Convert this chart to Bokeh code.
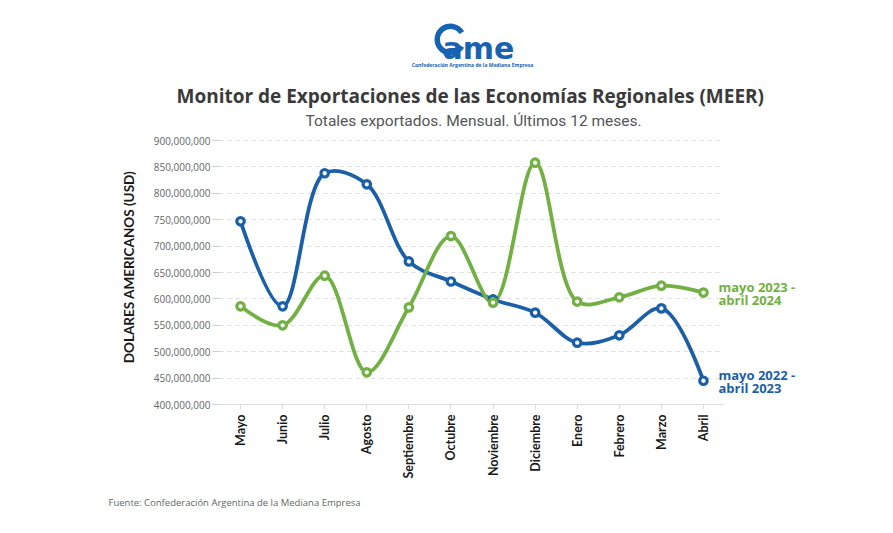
import math
from bokeh.plotting import figure
from bokeh.layouts import column
from bokeh.models import Label, FixedTicker, NumeralTickFormatter, Range1d, Title
from bokeh.embed import file_html
from bokeh.resources import INLINE

months = ["Mayo", "Junio", "Julio", "Agosto", "Septiembre", "Octubre", "Noviembre",
          "Diciembre", "Enero", "Febrero", "Marzo", "Abril"]
serie_2022_2023 = [747e6, 586e6, 838e6, 817e6, 671e6, 633e6, 599e6, 574e6, 517e6, 531e6, 582e6, 445e6]
serie_2023_2024 = [586e6, 550e6, 644e6, 461e6, 584e6, 719e6, 593e6, 858e6, 595e6, 603e6, 625e6, 612e6]
name_2022 = ["mayo 2022 -", "abril 2023"]
name_2023 = ["mayo 2023 -", "abril 2024"]
y_ticks = [400e6, 450e6, 500e6, 550e6, 600e6, 650e6, 700e6, 750e6, 800e6, 850e6, 900e6]

title_text = "Monitor de Exportaciones de las Economías Regionales (MEER)"
subtitle_text = "Totales exportados. Mensual. Últimos 12 meses."
source_text = "Fuente: Confederación Argentina de la Mediana Empresa"
logo_text = "ame"
logo_sub = "Confederación Argentina de la Mediana Empresa"

BLUE = "#1b5fa7"
GREEN = "#72b043"
LOGO = "#1762b3"
W = 885
BL, BR = 219, 5

# ---------------- header (logo) ----------------
HH = 79
head = figure(width=W, height=HH, output_backend="svg", toolbar_location=None,
              x_range=Range1d(BL, W - BR), y_range=Range1d(HH, 0),
              min_border_left=BL, min_border_right=BR,
              min_border_top=0, min_border_bottom=0)
head.axis.visible = False
head.grid.grid_line_color = None
head.outline_line_color = None
head.annular_wedge(x=[450], y=[39], inner_radius=10.5, outer_radius=16,
                   start_angle=0.55, end_angle=2 * math.pi - 0.55,
                   inner_radius_units="screen", outer_radius_units="screen",
                   fill_color=LOGO, line_color=None)
head.add_layout(Label(x=442, y=48, text=logo_text, text_font="DejaVu Sans",
                      text_font_style="bold", text_font_size="30px", text_color=LOGO,
                      text_align="left", text_baseline="alphabetic"))
head.add_layout(Label(x=472, y=64, text=logo_sub, text_font="Open Sans",
                      text_font_style="bold", text_font_size="5px", text_color=LOGO,
                      text_align="center", text_baseline="middle"))

# ---------------- main chart ----------------
FRAME_TOP = 130
FRAME_BOTTOM = 405
Y0 = 400e6
px_per_usd = 264 / 500e6
px_per_cat = 505 / 12
fw = W - BL - BR
fh = FRAME_BOTTOM - FRAME_TOP
X0 = -0.5
X1 = X0 + fw / px_per_cat
Y1 = Y0 + fh / px_per_usd
sx = px_per_cat
sy = px_per_usd

p = figure(frame_width=fw, frame_height=fh, output_backend="svg", toolbar_location=None,
           x_range=Range1d(X0, X1), y_range=Range1d(Y0, Y1), title=None,
           min_border_left=BL, min_border_right=BR, min_border_top=0, min_border_bottom=0)
p.outline_line_color = None

p.add_layout(Title(text=subtitle_text, text_font="Roboto", text_font_size="15.5px",
                   text_font_style="normal", text_color="#555555", align="left",
                   offset=305 - BL, standoff=0), "above")
p.add_layout(Title(text=title_text, text_font="Open Sans", text_font_size="19px",
                   text_font_style="bold", text_color="#3a3a3a", align="left",
                   offset=176 - BL, standoff=2), "above")

p.xaxis.ticker = FixedTicker(ticks=list(range(len(months))))
p.xaxis.bounds = (-0.5, len(months) - 0.5)
p.xaxis.major_label_overrides = {i: m for i, m in enumerate(months)}
p.xaxis.major_label_orientation = math.pi / 2
p.xaxis.major_label_text_font = "Lato"
p.xaxis.major_label_text_font_style = "bold"
p.xaxis.major_label_text_font_size = "12.5px"
p.xaxis.major_label_text_color = "#1a1a1a"
p.xaxis.axis_line_color = "#dddddd"
p.xaxis.major_tick_line_color = "#dddddd"
p.xaxis.major_tick_out = 5
p.xaxis.major_tick_in = 0
p.xaxis.minor_tick_line_color = None
p.xaxis.major_label_standoff = 5

p.add_layout(Title(text=source_text, text_font="Open Sans", text_font_size="9.5px",
                   text_font_style="normal", text_color="#666666", align="left",
                   offset=108 - BL, standoff=24), "below")

p.yaxis.ticker = FixedTicker(ticks=y_ticks)
p.yaxis.bounds = (y_ticks[0], y_ticks[-1])
p.yaxis.formatter = NumeralTickFormatter(format="0,0")
p.yaxis.major_label_text_font = "Open Sans"
p.yaxis.major_label_text_font_size = "10px"
p.yaxis.major_label_text_color = "#666666"
p.yaxis.axis_line_color = None
p.yaxis.major_tick_line_color = "#cccccc"
p.yaxis.major_tick_out = 7
p.yaxis.major_tick_in = 0
p.yaxis.minor_tick_line_color = None
p.yaxis.major_label_standoff = 2
p.yaxis.axis_label = "DOLARES AMERICANOS (USD)"
p.yaxis.axis_label_text_font = "Lato"
p.yaxis.axis_label_text_font_style = "bold"
p.yaxis.axis_label_text_font_size = "13.5px"
p.yaxis.axis_label_text_color = "#1a1a1a"
p.yaxis.axis_label_standoff = 14

p.xgrid.grid_line_color = None
p.ygrid.grid_line_color = "#dddddd"
p.ygrid.grid_line_dash = "4 4"
p.ygrid.ticker = FixedTicker(ticks=y_ticks)
p.ygrid.cross_bounds = (-0.5, len(months) - 0.6)


def spline(xs, ys):
    # plotly-like catmull-rom smoothing computed in pixel space
    pts = [(x * sx, y * sy) for x, y in zip(xs, ys)]
    tangents = []
    for i in range(1, len(pts) - 1):
        pr, th, nx = pts[i - 1], pts[i], pts[i + 1]
        d1x, d1y = pr[0] - th[0], pr[1] - th[1]
        d2x, d2y = nx[0] - th[0], nx[1] - th[1]
        d1a = (d1x * d1x + d1y * d1y) ** 0.25
        d2a = (d2x * d2x + d2y * d2y) ** 0.25
        numx = d2a * d2a * d1x - d1a * d1a * d2x
        numy = d2a * d2a * d1y - d1a * d1a * d2y
        den1 = 3 * d2a * (d1a + d2a)
        den2 = 3 * d1a * (d1a + d2a)
        tangents.append(((th[0] + numx / den1, th[1] + numy / den1),
                         (th[0] - numx / den2, th[1] - numy / den2)))
    to = lambda q: (q[0] / sx, q[1] / sy)
    n = len(pts)
    quads = [(to(pts[0]), to(tangents[0][0]), to(pts[1])),
             (to(pts[n - 2]), to(tangents[n - 3][1]), to(pts[n - 1]))]
    cubs = [(to(pts[i - 1]), to(tangents[i - 2][1]), to(tangents[i - 1][0]), to(pts[i]))
            for i in range(2, n - 1)]
    return quads, cubs


def draw(series, color):
    xs = list(range(len(series)))
    quads, cubs = spline(xs, series)
    p.quadratic(x0=[q[0][0] for q in quads], y0=[q[0][1] for q in quads],
                cx=[q[1][0] for q in quads], cy=[q[1][1] for q in quads],
                x1=[q[2][0] for q in quads], y1=[q[2][1] for q in quads],
                line_color=color, line_width=3.8, line_cap="round")
    p.bezier(x0=[c[0][0] for c in cubs], y0=[c[0][1] for c in cubs],
             cx0=[c[1][0] for c in cubs], cy0=[c[1][1] for c in cubs],
             cx1=[c[2][0] for c in cubs], cy1=[c[2][1] for c in cubs],
             x1=[c[3][0] for c in cubs], y1=[c[3][1] for c in cubs],
             line_color=color, line_width=3.8, line_cap="round")


draw(serie_2022_2023, BLUE)
draw(serie_2023_2024, GREEN)
xs = list(range(len(months)))
p.scatter(xs, serie_2022_2023, size=7.5, marker="circle", fill_color="white",
          line_color=BLUE, line_width=3.2)
p.scatter(xs, serie_2023_2024, size=7.5, marker="circle", fill_color="white",
          line_color=GREEN, line_width=3.2)

for names, series, color in [(name_2023, serie_2023_2024, GREEN), (name_2022, serie_2022_2023, BLUE)]:
    for k, t in enumerate(names):
        p.add_layout(Label(x=len(series) - 1, y=series[-1], x_offset=15, y_offset=6 - 13 * k,
                           text=t, text_color=color, text_font="Open Sans",
                           text_font_style="bold", text_font_size="13px",
                           text_baseline="middle", text_align="left"))

layout = column(head, p, spacing=0)
open("out.html", "w").write(file_html(layout, INLINE))
